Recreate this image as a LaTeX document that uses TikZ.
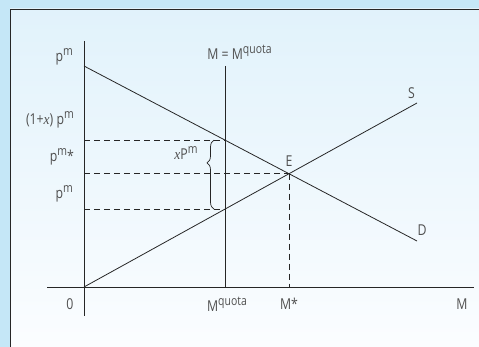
\documentclass[tikz,border=0pt]{standalone}
\usepackage{fontspec}
\setmainfont{Open Sans}[FakeStretch=0.82]
\newfontfamily\timesit{Liberation Serif}[FakeStretch=0.9]
\usetikzlibrary{calc,decorations.pathreplacing}
\definecolor{outerbg}{HTML}{C5E7F7}
\definecolor{paneltop}{HTML}{E1F2FB}
\definecolor{panelbot}{HTML}{FBFDFF}
\definecolor{ink}{HTML}{262626}
\definecolor{labelgray}{HTML}{505050}
\newcommand{\hi}[1]{\raisebox{0.42em}{\scalebox{0.85}{#1}}}
\newcommand{\xv}{{\timesit\itshape x}}

\begin{document}
\begin{tikzpicture}[x=1pt, y=-1pt, font=\fontsize{15}{18}\selectfont,
  curve/.style={draw=ink, line width=0.8pt},
  guide/.style={draw=ink, line width=0.7pt, dash pattern=on 6pt off 4pt},
  lbl/.style={inner sep=0pt, text=labelgray}]
  \useasboundingbox (0,0) rectangle (479,347);
  % background panel
  \fill[outerbg] (0,0) rectangle (479,347);
  \shade[top color=paneltop, bottom color=panelbot] (10,9) rectangle (479,347);
  \draw[ink, line width=0.9pt] (10,347) -- (10,9) -- (479,9);

  % axes and curves
  \coordinate (O) at (84,287);
  \coordinate (ytop) at (84,41);  \coordinate (ybot) at (84,316);
  \coordinate (xl) at (47,287);   \coordinate (xr) at (474,287);
  \coordinate (Dtop) at (84,66);  \coordinate (Dend) at (417,241);
  \coordinate (Send) at (417,103);
  \coordinate (Qtop) at (225,66); \coordinate (Qbot) at (225,287);
  \coordinate (E) at (intersection of Dtop--Dend and O--Send);
  \coordinate (QD) at (intersection of Dtop--Dend and Qtop--Qbot);
  \coordinate (QS) at (intersection of O--Send and Qtop--Qbot);
  \coordinate (Ebot) at (E |- O);

  \draw[curve] (ytop) -- (ybot);
  \draw[curve] (xl) -- (xr);
  \draw[curve] (Dtop) -- (Dend);
  \draw[curve] (O) -- (Send);
  \draw[curve] (Qtop) -- (Qbot);
  \draw[guide] (QD -| O) -- (QD);
  \draw[guide] (E -| O) -- (E);
  \draw[guide] (QS -| O) -- (QS);
  \draw[guide] (E) -- (Ebot);
  \draw[curve, line width=0.7pt, decorate, decoration={brace, amplitude=7pt, aspect=0.67}]
    ($(QS)+(-11,0)$) -- ($(QD)+(-11,0)$);

  % labels
  \node[lbl, anchor=east] (pmtop) at (73,57) {p\hi{m}};
  \node[lbl, anchor=east] (pmtax) at (74,120) {(1+\xv) p\hi{m}};
  \node[lbl, anchor=east] (pmstar) at (74,157) {p\hi{m}*};
  \node[lbl, anchor=east] (pmlow) at (73,194) {p\hi{m}};
  \node[lbl] (zero) at (70,304) {0};
  \node[lbl] (mquota) at (227,304) {M\hi{quota}};
  \node[lbl] (mstar) at (289,304) {M*};
  \node[lbl] (maxis) at (462,304) {M};
  \node[lbl] (slbl) at (411.5,93) {S};
  \node[lbl] (dlbl) at (422,230) {D};
  \node[lbl] (elbl) at (289,161) {E};
  \node[lbl] (quota) at (239.5,52) {M = M\hi{quota}};
  \node[lbl] (gap) at (186,153) {\xv P\hi{m}};
\end{tikzpicture}
\end{document}
